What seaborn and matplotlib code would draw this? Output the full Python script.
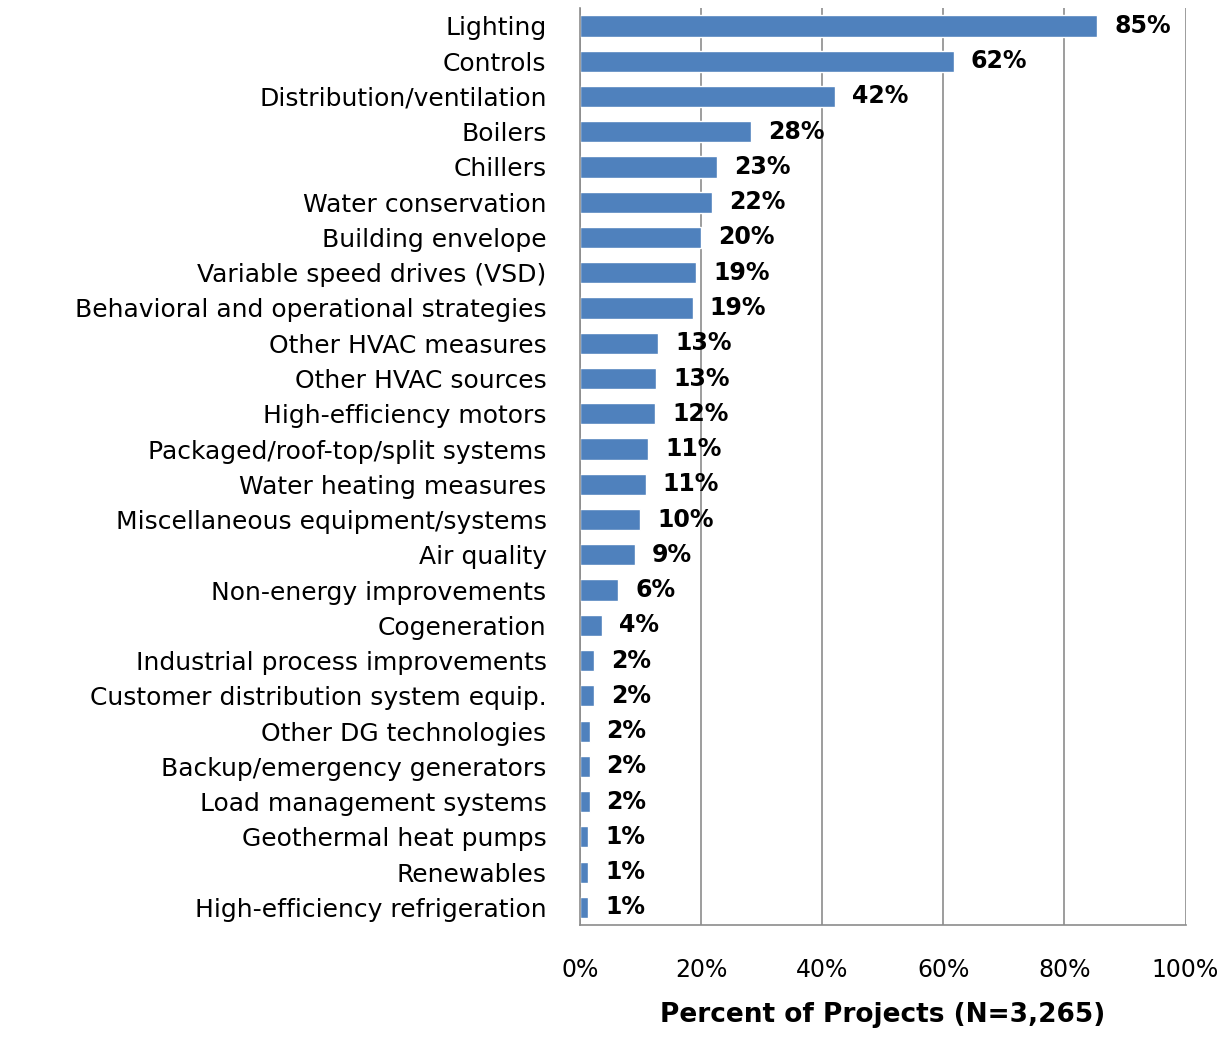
import matplotlib
matplotlib.use("Agg")
import matplotlib.pyplot as plt
import seaborn as sns
import pandas as pd

# measure categories and share of projects (%)
categories = [
    "Lighting", "Controls", "Distribution/ventilation", "Boilers", "Chillers",
    "Water conservation", "Building envelope", "Variable speed drives (VSD)",
    "Behavioral and operational strategies", "Other HVAC measures",
    "Other HVAC sources", "High-efficiency motors",
    "Packaged/roof-top/split systems", "Water heating measures",
    "Miscellaneous equipment/systems", "Air quality", "Non-energy improvements",
    "Cogeneration", "Industrial process improvements",
    "Customer distribution system equip.", "Other DG technologies",
    "Backup/emergency generators", "Load management systems",
    "Geothermal heat pumps", "Renewables", "High-efficiency refrigeration",
]
percent = [85.4, 61.7, 42.1, 28.3, 22.7, 21.8, 20.0, 19.2, 18.6, 12.9,
           12.6, 12.4, 11.3, 10.9, 10.0, 9.1, 6.3, 3.7, 2.3, 2.3,
           1.6, 1.6, 1.6, 1.4, 1.4, 1.4]
x_ticks = [0, 20, 40, 60, 80, 100]

df = pd.DataFrame({"measure": categories, "pct": percent})

sns.set_style("white")
fig = plt.figure(figsize=(12.26, 10.37), dpi=100)
ax = fig.add_axes([0.473, 0.108, 0.494, 0.884])

sns.barplot(data=df, x="pct", y="measure", orient="h", color="#4F81BD",
            saturation=1, width=0.6, ax=ax)

for i, v in enumerate(percent):
    ax.text(v + 2.8, i, f"{round(v)}%", va="center", ha="left",
            fontsize=17, fontweight="bold", color="black")

ax.set_xlim(0, 100)
ax.set_xticks(x_ticks)
ax.set_xticklabels([f"{t}%" for t in x_ticks], fontsize=17, color="black")
ax.tick_params(axis="x", length=0, pad=24)
ax.tick_params(axis="y", length=0, pad=24, labelsize=18, labelcolor="black")
ax.set_ylabel("")
ax.set_xlabel("Percent of Projects (N=3,265)", fontsize=19,
              fontweight="bold", labelpad=14, color="black")

ax.grid(axis="x", color="#8c8c8c", linewidth=1.2)
ax.set_axisbelow(True)
for side in ["left", "bottom"]:
    ax.spines[side].set_color("#8c8c8c")
    ax.spines[side].set_linewidth(1.2)
ax.spines["top"].set_visible(False)
ax.spines["right"].set_visible(False)

plt.savefig("out.png", dpi=100)
